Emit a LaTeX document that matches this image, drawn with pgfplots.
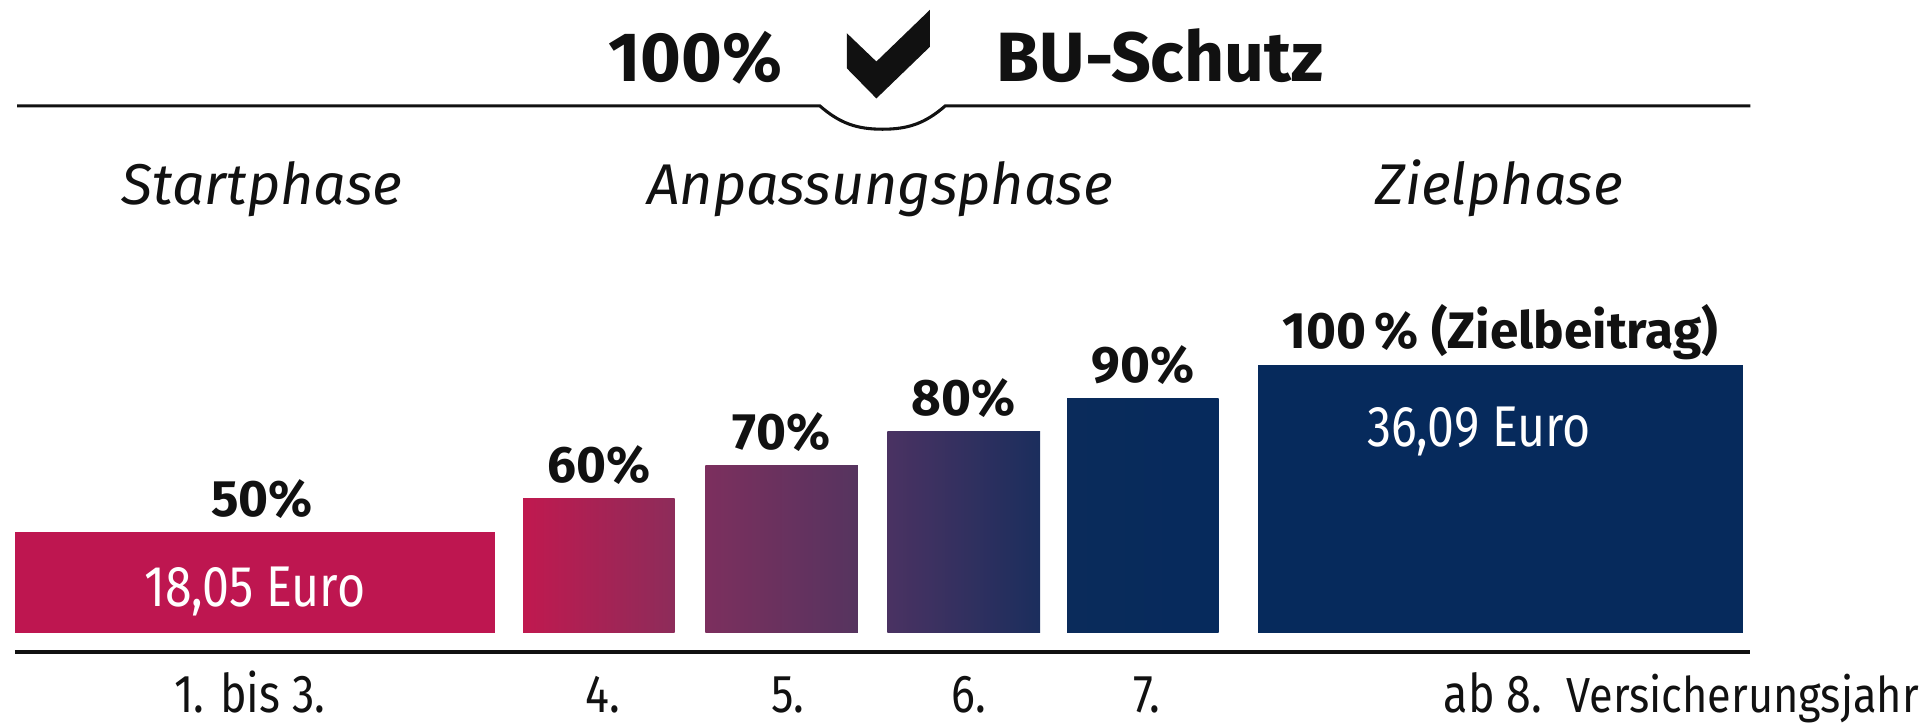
\documentclass[border=0pt]{standalone}
\usepackage{fontspec}
\setmainfont{Fira Sans}
\newfontfamily\condfont{Fira Sans}[FakeStretch=0.84]
\newfontfamily\lightfont{Fira Sans}[FakeStretch=0.88]
\usepackage{pgfplots}
\pgfplotsset{compat=1.18}
\definecolor{crim}{HTML}{BE1650}
\definecolor{gA1}{HTML}{C0194F}
\definecolor{gA2}{HTML}{8D2C5A}
\definecolor{gB1}{HTML}{7C2F5E}
\definecolor{gB2}{HTML}{56345F}
\definecolor{gC1}{HTML}{4A3262}
\definecolor{gC2}{HTML}{1B2E5D}
\definecolor{navyA}{HTML}{0A2B5B}
\definecolor{navy}{HTML}{062A5C}
\definecolor{ink}{HTML}{111111}
\begin{document}
\begin{tikzpicture}
\begin{axis}[
  width=470.4pt, height=154.2pt, scale only axis,
  xmin=0, xmax=1568, ymin=20, ymax=208.97,
  clip mode=individual,
  axis line style={draw=none},
  tick style={draw=none},
  ytick=\empty,
  xtick={203,490,640,787,932,1213},
  xticklabels={1. bis 3., 4., 5., 6., 7., ab 8.},
  xticklabel style={anchor=base, yshift=-19.5pt, inner sep=0pt, text=ink,
    font=\condfont\fontsize{13}{13}\selectfont},
  point meta=y,
  nodes near coords={\pgfmathprintnumber[assume math mode=true]{\pgfplotspointmeta}\%},
  every node near coord/.append style={font=\bfseries\fontsize{12.5}{12.5}\selectfont,
    anchor=base, yshift=3.9pt, inner sep=0pt, text=ink},
]
\addplot[ybar, bar width=390, bar shift=0pt, draw=none, fill=crim,
  every node near coord/.append style={xshift=1.8pt}] coordinates {(207,50)};
\addplot[ybar, bar width=123, bar shift=0pt, draw=none, left color=gA1, right color=gA2] coordinates {(486.5,60)};
\addplot[ybar, bar width=124, bar shift=0pt, draw=none, left color=gB1, right color=gB2] coordinates {(635,70)};
\addplot[ybar, bar width=124, bar shift=0pt, draw=none, left color=gC1, right color=gC2] coordinates {(783,80)};
\addplot[ybar, bar width=123, bar shift=0pt, draw=none, left color=navyA, right color=navy] coordinates {(928.5,90)};
\addplot[ybar, bar width=394, bar shift=0pt, draw=none, fill=navy,
  nodes near coords={\pgfmathprintnumber[assume math mode=true]{\pgfplotspointmeta}\,\% (Zielbeitrag)}] coordinates {(1219,100)};
\node[anchor=base, text=white, inner sep=0pt, font=\condfont\fontsize{14}{14}\selectfont] at (axis cs:207,27.72) {18,05 Euro};
\node[anchor=base, text=white, inner sep=0pt, font=\condfont\fontsize{14}{14}\selectfont] at (axis cs:1201.5,75.51) {36,09 Euro};
\node[anchor=base west, inner sep=0pt, text=ink, font=\lightfont\fontsize{12}{12}\selectfont] at (axis cs:1272,-3.9) {Versicherungsjahr};
\end{axis}
\begin{scope}[shift={(0pt,154.2pt)}, x=0.3pt, y=-0.3pt]
  % title
  \node[anchor=base, inner sep=0pt, text=ink, font=\bfseries\fontsize{17}{17}\selectfont] at (565,66) {100\%};
  \node[anchor=base, inner sep=0pt, text=ink, font=\bfseries\fontsize{17}{17}\selectfont] at (942.5,66) {BU-Schutz};
  \fill[ink] (688,27) -- (712,50) -- (755.5,8) -- (755.5,38) -- (712,80) -- (688,55.5) -- cycle;
  \draw[ink, line width=0.75pt] (14,86) -- (666,86) to[out=-41,in=180] (717,105) to[out=0,in=221] (768,86) -- (1422,86);
  % phases
  \node[anchor=base, inner sep=0pt, text=ink, font=\itshape\fontsize{14}{14}\selectfont] at (213,166) {Startphase};
  \node[anchor=base, inner sep=0pt, text=ink, font=\itshape\fontsize{14}{14}\selectfont] at (715,166) {Anpassungsphase};
  \node[anchor=base, inner sep=0pt, text=ink, font=\itshape\fontsize{14}{14}\selectfont] at (1218,166) {Zielphase};
  % baseline
  \draw[ink, line width=0.9pt] (12,530) -- (1422,530);
  \pgfresetboundingbox
  \path (0,0) rectangle (1568,588);
\end{scope}
\end{tikzpicture}
\end{document}
